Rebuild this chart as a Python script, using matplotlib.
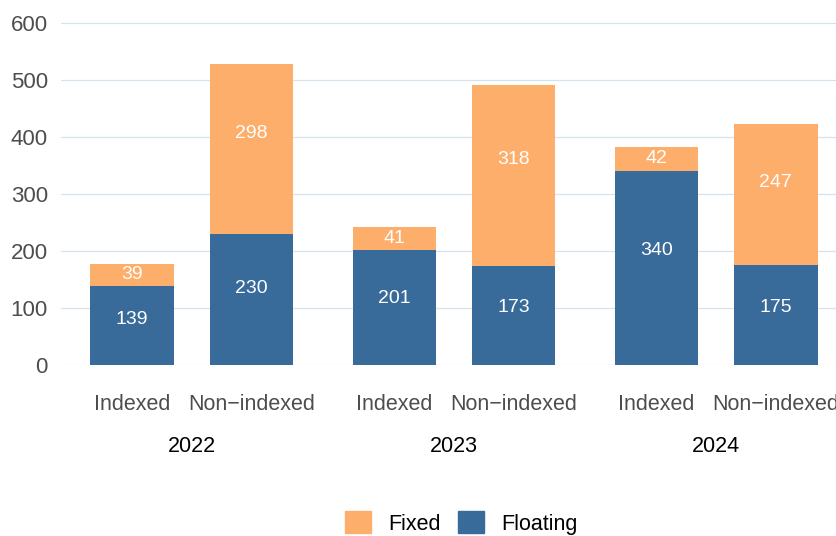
import matplotlib
matplotlib.use("Agg")
import matplotlib.pyplot as plt
from matplotlib.patches import Patch
from matplotlib.transforms import blended_transform_factory

plt.rcParams["font.family"] = ["Liberation Sans", "DejaVu Sans"]

years = ["2022", "2023", "2024"]
categories = ["Indexed", "Non\u2212indexed"]
floating = [[139, 230], [201, 173], [340, 175]]
fixed = [[39, 298], [41, 318], [42, 247]]

col_fixed = "#fdae6b"
col_floating = "#386a9a"
grid_col = "#d5e3ec"
tick_col = "#4d4d4d"

W, H = 836, 536
fig = plt.figure(figsize=(W / 100, H / 100), dpi=100)

panel_left = [60.5, 322.8, 585.1]
panel_w = 262.3
bottom_px = 365
ymax = 610
px_per_unit = (365 - 23) / 600
top_px = bottom_px - ymax * px_per_unit

# labels sit a bit above the middle of each segment
label_pos = 0.6

for i, year in enumerate(years):
    ax = fig.add_axes([panel_left[i] / W, (H - bottom_px) / H,
                       panel_w / W, (bottom_px - top_px) / H])
    x = [1, 2]
    ax.bar(x, floating[i], width=0.7, color=col_floating, zorder=3)
    ax.bar(x, fixed[i], width=0.7, bottom=floating[i], color=col_fixed, zorder=3)
    for j in range(2):
        ax.text(x[j], floating[i][j] * label_pos, str(floating[i][j]), ha="center",
                va="center_baseline", color="white", fontsize=14, zorder=4)
        ax.text(x[j], floating[i][j] + fixed[i][j] * label_pos, str(fixed[i][j]),
                ha="center", va="center_baseline", color="white", fontsize=14, zorder=4)
    ax.set_xlim(0.4, 2.6)
    ax.set_ylim(0, ymax)
    ax.set_yticks([0, 100, 200, 300, 400, 500, 600])
    ax.grid(axis="y", color=grid_col, linewidth=0.9, zorder=0)
    ax.set_axisbelow(True)
    for s in ax.spines.values():
        s.set_visible(False)
    ax.set_xticks([])
    ax.tick_params(axis="y", length=0, pad=9, labelsize=16, labelcolor=tick_col)
    if i > 0:
        ax.set_yticklabels([])
    trans = blended_transform_factory(ax.transData, fig.transFigure)
    for j in range(2):
        ax.text(x[j], 1 - 405 / H, categories[j], transform=trans, ha="center",
                va="center", fontsize=15.5, color=tick_col, clip_on=False)
    ax.text(1.5, 1 - 446 / H, year, transform=trans, ha="center", va="center",
            fontsize=15.5, color="black", clip_on=False)

handles = [Patch(color=col_fixed, label="Fixed"),
           Patch(color=col_floating, label="Floating")]
fig.legend(handles=handles, loc="center", bbox_to_anchor=(461.5 / W, 1 - 523 / H),
           ncol=2, frameon=False, fontsize=15.5, handlelength=1.2,
           handleheight=1.2, handletextpad=0.8, columnspacing=0.8)

fig.savefig("out.png", dpi=100)
